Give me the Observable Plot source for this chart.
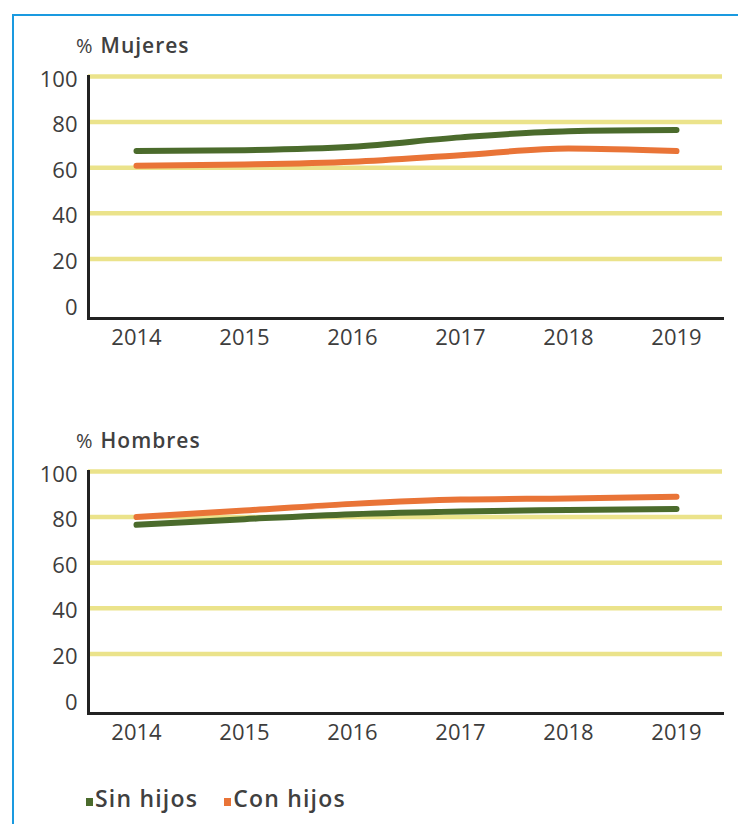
<!DOCTYPE html>
<html><head><meta charset="utf-8">
<script src="https://cdn.jsdelivr.net/npm/d3@7"></script>
<script src="https://cdn.jsdelivr.net/npm/@observablehq/plot@0.6"></script>
<style>
body{margin:0;background:#fff;font-family:"Open Sans",Lato,sans-serif;color:#444;}
#page{position:relative;width:738px;height:824px;overflow:hidden;background:#fff}
.frame-top{position:absolute;left:12px;top:14px;width:740px;height:2px;background:#1a9ae0}
.frame-left{position:absolute;left:12px;top:14px;width:2px;height:820px;background:#1a9ae0}
.title{position:absolute;left:76px;font-size:21px;line-height:24px;color:#404040;white-space:nowrap;letter-spacing:1px;font-weight:600}
.title .pct{font-size:20px;margin-right:8px;letter-spacing:0;font-weight:400}
.chart{position:absolute;left:0}
.legend{position:absolute;top:786px;left:86px;font-size:23px;line-height:24px;color:#404040;display:flex;align-items:baseline;white-space:nowrap;letter-spacing:1.2px;font-weight:600}
.legend .item{margin-right:26px}
.sw{display:inline-block;width:7px;height:8px;margin-right:2px;vertical-align:1px}
</style></head>
<body><div id="page">
<div class="frame-top"></div><div class="frame-left"></div>
</div>
<script>
const years = ["2014","2015","2016","2017","2018","2019"];
const seriesNames = ["Sin hijos","Con hijos"];
const seriesColors = ["#4b6b2c","#e97437"];
const mujeresSin = [67.3,67.7,69.2,73.3,76.0,76.5];
const mujeresCon = [60.9,61.4,62.6,65.5,68.4,67.3];
const hombresSin = [76.6,79.1,81.3,82.5,83.1,83.6];
const hombresCon = [80.0,82.9,85.8,87.7,88.2,88.9];
const yTicks = [0,20,40,60,80,100];
const gridTicks = [20,40,60,80,100];
const panels = [
  {title:"Mujeres", sin:mujeresSin, con:mujeresCon, top:60},
  {title:"Hombres", sin:hombresSin, con:hombresCon, top:455}
];

const page = document.getElementById("page");

for (const p of panels) {
  const data = [];
  years.forEach((y,i) => {
    data.push({year:y, value:p.sin[i], series:seriesNames[0]});
    data.push({year:y, value:p.con[i], series:seriesNames[1]});
  });
  const t = document.createElement("div");
  t.className = "title";
  t.style.top = (p.top - 27) + "px";
  t.innerHTML = `<span class="pct">%</span>${p.title}`;
  page.appendChild(t);

  const chart = Plot.plot({
    width: 738, height: 300,
    marginLeft: 88, marginRight: 16, marginTop: 16, marginBottom: 42,
    style: {fontFamily: "'Open Sans', Lato, sans-serif", fontSize: "22px", fontWeight: 500, color: "#3d3d3d", background: "transparent"},
    x: {type: "point", domain: years, padding: 0, insetLeft: 48, insetRight: 46},
    y: {domain: [0,100], insetBottom: 14},
    color: {domain: seriesNames, range: seriesColors},
    marks: [
      Plot.ruleY(gridTicks, {stroke: "#ebe38b", strokeWidth: 4.5}),
      Plot.frame({anchor: "left", stroke: "#222", strokeWidth: 3}),
      Plot.frame({anchor: "bottom", stroke: "#222", strokeWidth: 3}),
      Plot.axisY(yTicks, {tickSize: 0, tickPadding: 11, dy: 3, label: null}),
      Plot.axisX({tickSize: 0, tickPadding: 11, label: null}),
      Plot.line(data, {x: "year", y: "value", stroke: "series", z: "series", curve: "monotone-x", strokeWidth: 6, strokeLinecap: "round"})
    ]
  });
  chart.classList.add("chart");
  chart.style.top = p.top + "px";
  page.appendChild(chart);
}

const leg = document.createElement("div");
leg.className = "legend";
leg.innerHTML = seriesNames.map((n,i) => `<span class="item"><span class="sw" style="background:${seriesColors[i]}"></span>${n}</span>`).join("");
page.appendChild(leg);
</script>
</body></html>
